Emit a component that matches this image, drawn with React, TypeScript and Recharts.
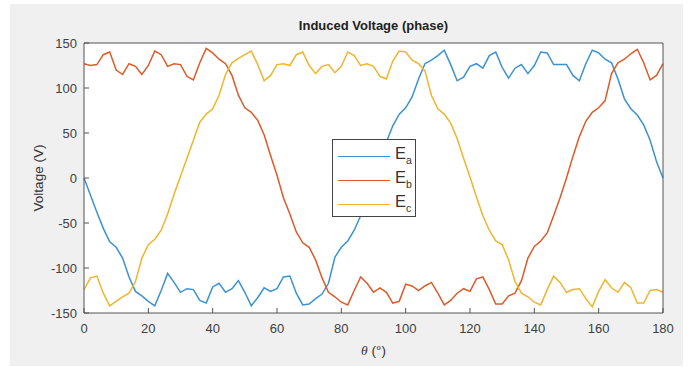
import React from 'react';
import { LineChart, Line, XAxis, YAxis, CartesianGrid, Legend } from 'recharts';

// rotor angle (deg), sampled every 2 degrees
const THETA = [
  0, 2, 4, 6, 8, 10, 12, 14, 16, 18, 20, 22, 24, 26, 28, 30, 32, 34, 36, 38,
  40, 42, 44, 46, 48, 50, 52, 54, 56, 58, 60, 62, 64, 66, 68, 70, 72, 74, 76, 78,
  80, 82, 84, 86, 88, 90, 92, 94, 96, 98, 100, 102, 104, 106, 108, 110, 112, 114, 116, 118,
  120, 122, 124, 126, 128, 130, 132, 134, 136, 138, 140, 142, 144, 146, 148, 150, 152, 154, 156, 158,
  160, 162, 164, 166, 168, 170, 172, 174, 176, 178, 180,
];

const EA = [
  0, -19, -38, -56, -71, -77, -89, -110, -126, -131, -137, -142, -125, -106, -116, -127, -123, -124, -136, -139,
  -121, -117, -127, -123, -114, -127, -142, -133, -122, -126, -123, -110, -109, -128, -141, -140, -134, -129, -117, -88,
  -77, -70, -58, -42, -20, 0, 20, 40, 58, 71, 78, 90, 110, 127, 131, 136, 142, 126, 108, 112,
  124, 127, 122, 136, 140, 123, 111, 122, 126, 116, 125, 140, 139, 126, 126, 126, 114, 108, 127, 142,
  139, 132, 128, 110, 88, 77, 70, 59, 42, 18, 0,
];

const EB = [
  127, 125, 126, 137, 140, 120, 115, 127, 124, 115, 125, 141, 137, 124, 127, 126, 113, 109, 128, 144,
  139, 132, 127, 114, 92, 78, 73, 64, 48, 25, 3, -22, -40, -60, -72, -77, -91, -111, -127, -132,
  -138, -141, -125, -110, -117, -127, -122, -127, -139, -137, -118, -120, -125, -120, -116, -128, -141, -136, -128, -123,
  -126, -112, -110, -124, -140, -140, -131, -128, -114, -89, -76, -70, -61, -42, -22, 0, 24, 46, 63, 73,
  78, 86, 116, 128, 132, 138, 143, 128, 109, 114, 127,
];

const EC = [
  -124, -111, -109, -128, -142, -137, -132, -128, -115, -89, -74, -68, -58, -40, -18, 2, 22, 42, 62, 71,
  77, 92, 115, 128, 133, 137, 141, 126, 108, 114, 126, 127, 125, 137, 140, 125, 116, 124, 126, 117,
  124, 140, 136, 125, 127, 124, 113, 110, 130, 141, 140, 131, 127, 119, 92, 77, 71, 61, 44, 22,
  1, -21, -42, -58, -70, -74, -91, -115, -128, -132, -138, -141, -124, -109, -116, -127, -124, -123, -134, -143,
  -126, -113, -122, -127, -116, -122, -139, -139, -125, -124, -127,
];

const X_TICKS = [0, 20, 40, 60, 80, 100, 120, 140, 160, 180];
const Y_TICKS = [-150, -100, -50, 0, 50, 100, 150];

const SERIES = [
  { key: 'Ea', sub: 'a', color: '#3a92d4' },
  { key: 'Eb', sub: 'b', color: '#de5a28' },
  { key: 'Ec', sub: 'c', color: '#efb52c' },
];

const data = THETA.map((t, i) => ({ theta: t, Ea: EA[i], Eb: EB[i], Ec: EC[i] }));

const FONT = '"Liberation Sans", Arial, Helvetica, sans-serif';
const AXIS = '#555';
const TICK = { fill: '#404040', fontSize: 13, fontFamily: FONT };

const LegendBox = () => (
  <div
    style={{
      width: 84,
      height: 78,
      boxSizing: 'border-box',
      background: '#fff',
      border: '1px solid #444',
      fontFamily: FONT,
      padding: '4px 0 0 5px',
    }}
  >
    {SERIES.map((s) => (
      <div key={s.key} style={{ display: 'flex', alignItems: 'center', height: 24 }}>
        <div style={{ width: 52, height: 0, borderTop: `1.5px solid ${s.color}` }} />
        <span style={{ marginLeft: 5, fontSize: 16.5, color: '#333', lineHeight: '16px' }}>
          E<sub style={{ fontSize: 10.5, verticalAlign: -5 }}>{s.sub}</sub>
        </span>
      </div>
    ))}
  </div>
);

export default function App() {
  return (
    <div style={{ position: 'absolute', left: 0, top: 0, width: 688, height: 367, background: '#fff', overflow: 'hidden' }}>
      <div style={{ position: 'absolute', left: 10, top: 4, width: 673, height: 362, background: '#f0f0f0' }} />
      <div
        style={{
          position: 'absolute', left: 84, width: 579, top: 18, textAlign: 'center',
          fontFamily: FONT, fontWeight: 'bold', fontSize: 13, color: '#222',
        }}
      >
        Induced Voltage (phase)
      </div>
      <div
        style={{
          position: 'absolute', left: 84, width: 579, top: 343, textAlign: 'center',
          fontFamily: FONT, fontSize: 13.5, color: '#333',
        }}
      >
        <span style={{ fontFamily: '"Liberation Serif", serif', fontStyle: 'italic' }}>θ</span> (°)
      </div>
      <div
        style={{
          position: 'absolute', left: 38, top: 178, transform: 'translate(-50%, -50%) rotate(-90deg)',
          fontFamily: FONT, fontSize: 13.5, color: '#333', whiteSpace: 'nowrap',
        }}
      >
        Voltage (V)
      </div>
      <div style={{ position: 'absolute', left: 0, top: 0 }}>
        <LineChart width={688} height={367} data={data} margin={{ top: 42, right: 24, bottom: 24, left: 34 }}>
          <CartesianGrid horizontal={false} vertical={false} fill="#fff" xAxisId="b" yAxisId="l" />
          <XAxis
            xAxisId="b" dataKey="theta" type="number" domain={[0, 180]} ticks={X_TICKS}
            height={30} tickSize={-5} tickMargin={16} tick={TICK}
            axisLine={{ stroke: AXIS }} tickLine={{ stroke: AXIS }} interval={0}
          />
          <XAxis
            xAxisId="t" orientation="top" dataKey="theta" type="number" domain={[0, 180]} ticks={X_TICKS}
            height={1} tickSize={-5} tick={false}
            axisLine={{ stroke: AXIS }} tickLine={{ stroke: AXIS }} interval={0}
          />
          <YAxis
            yAxisId="l" type="number" domain={[-150, 150]} ticks={Y_TICKS}
            width={50} tickSize={-5} tickMargin={12} tick={TICK}
            axisLine={{ stroke: AXIS }} tickLine={{ stroke: AXIS }} interval={0}
          />
          <YAxis
            yAxisId="r" orientation="right" type="number" domain={[-150, 150]} ticks={Y_TICKS}
            width={1} tickSize={-5} tick={false}
            axisLine={{ stroke: AXIS }} tickLine={{ stroke: AXIS }} interval={0}
          />
          {SERIES.map((s) => (
            <Line
              key={s.key} xAxisId="b" yAxisId="l" type="linear" dataKey={s.key}
              stroke={s.color} strokeWidth={1.5} dot={false} isAnimationActive={false}
            />
          ))}
          <Legend
            layout="vertical" align="center" verticalAlign="middle"
            content={() => <LegendBox />}
            wrapperStyle={{ position: 'absolute', left: 332, top: 139, width: 84, height: 78 }}
          />
        </LineChart>
      </div>
    </div>
  );
}
